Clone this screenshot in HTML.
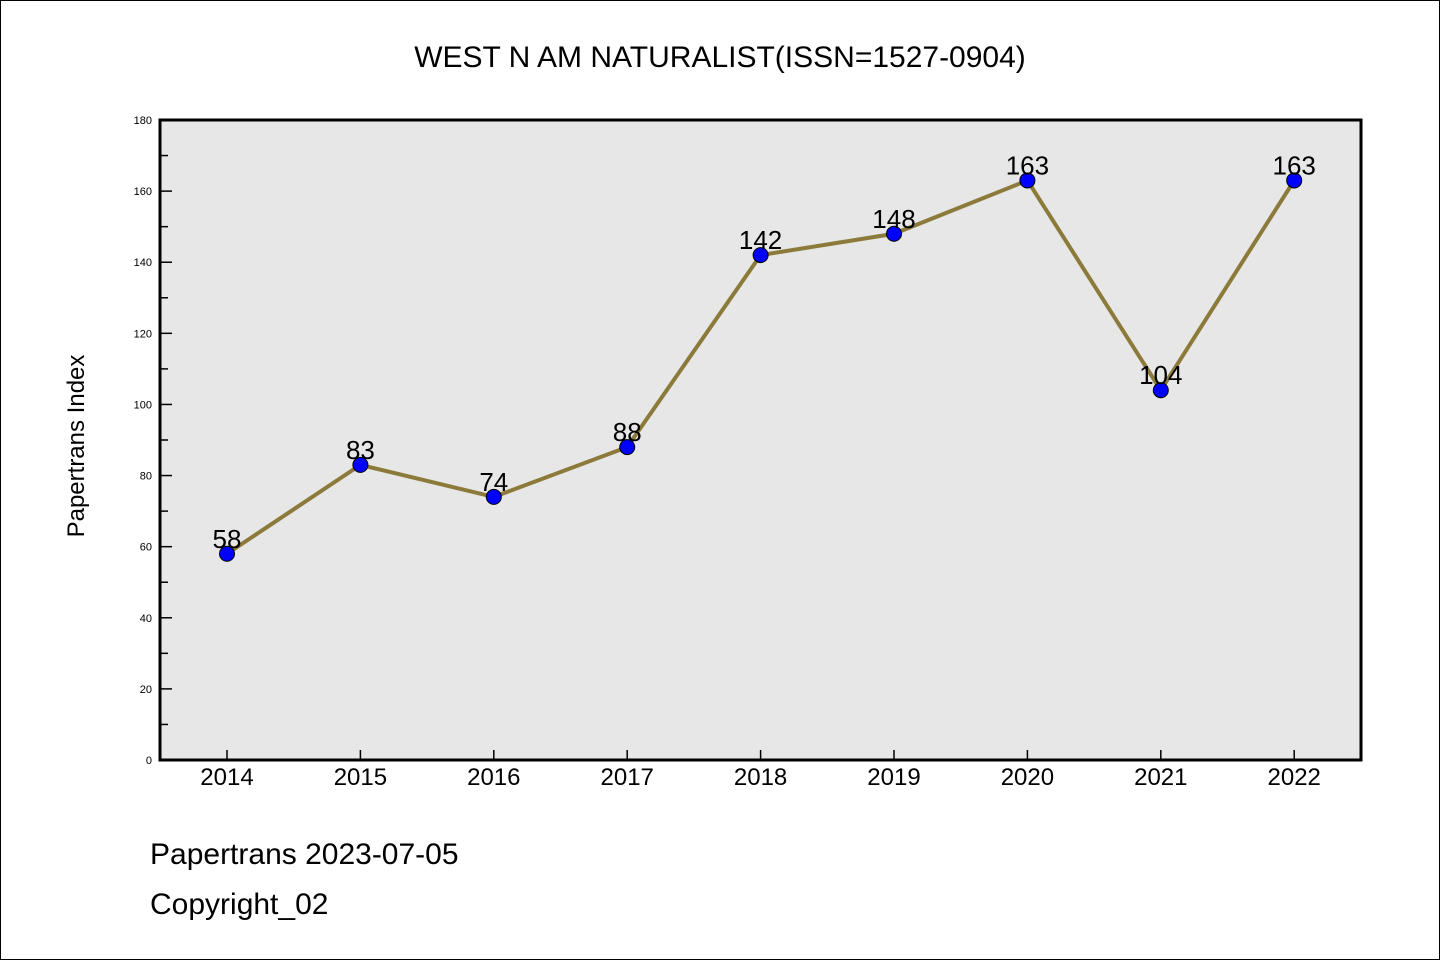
<!DOCTYPE html>
<html><head><meta charset="utf-8"><style>
html,body{margin:0;padding:0;background:#fff}
svg{display:block}
text{font-family:"WenQuanYi Zen Hei","Liberation Sans",sans-serif}
</style></head><body>
<svg id="chart" width="1440" height="960">
<rect x="0.5" y="0.5" width="1439" height="959" fill="#fff" stroke="#000"/>
<text x="720" y="67" text-anchor="middle" font-size="30">WEST N AM NATURALIST(ISSN=1527-0904)</text>
<rect x="160" y="120" width="1201" height="640" fill="#e7e7e7"/>
<g id="axes"></g>
<g id="series"></g>
<rect x="160" y="120" width="1201" height="640" fill="none" stroke="#000" stroke-width="3"/>
<text transform="translate(84,446) rotate(-90)" text-anchor="middle" font-size="24">Papertrans Index</text>
<text x="150" y="864" font-size="30">Papertrans 2023-07-05</text>
<text x="150" y="914" font-size="30">Copyright_02</text>
</svg>
<script>
const years=["2014","2015","2016","2017","2018","2019","2020","2021","2022"];
const values=[58,83,74,88,142,148,163,104,163];
const yTicks=[0,20,40,60,80,100,120,140,160,180];
const NS="http://www.w3.org/2000/svg";
const x0=227,dx=133.4,yb=760,yt=120,ymax=180;
const xs=i=>x0+i*dx;
const ys=v=>yb-(v/ymax)*(yb-yt);
function mk(t,a,p){const e=document.createElementNS(NS,t);for(const k in a)e.setAttribute(k,a[k]);p.appendChild(e);return e;}
const ax=document.getElementById('axes'),se=document.getElementById('series');
yTicks.forEach(v=>{
 const l=mk('line',{x1:160,x2:172,y1:ys(v),y2:ys(v),stroke:'#000','stroke-width':1.5},ax);
 
 
 const t=mk('text',{x:152,y:ys(v)+4,'text-anchor':'end','font-size':11},ax);t.textContent=v;
 
 
 if(v<ymax){const m=mk('line',{x1:160,x2:168,y1:ys(v+10),y2:ys(v+10),stroke:'#000','stroke-width':1.5},ax);
 
 }
});
years.forEach((y,i)=>{
 const l=mk('line',{x1:xs(i),x2:xs(i),y1:760,y2:750,stroke:'#000','stroke-width':1.5},ax);
 
 
 const t=mk('text',{x:xs(i),y:785,'text-anchor':'middle','font-size':24},ax);t.textContent=y;
 
 
});
const pl=mk('polyline',{points:values.map((v,i)=>xs(i)+','+ys(v)).join(' '),fill:'none',stroke:'#8c7a3a','stroke-width':4},se);


values.forEach((v,i)=>{
 const c=mk('circle',{cx:xs(i),cy:ys(v),r:7.5,fill:'#0000ff',stroke:'#000','stroke-width':1},se);
 
 
 const t=mk('text',{x:xs(i),y:ys(v)-6,'text-anchor':'middle','font-size':26},se);t.textContent=v;
 
 
});
</script>
</body></html>
